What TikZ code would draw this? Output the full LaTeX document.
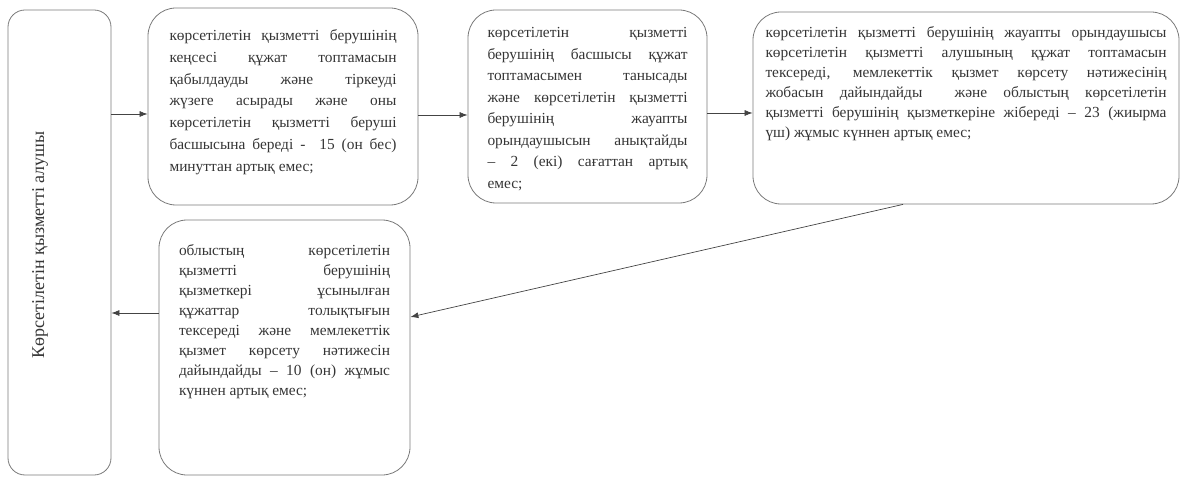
\documentclass[tikz,border=0pt]{standalone}
\usepackage{fontspec}
\setmainfont{Liberation Serif}
\usetikzlibrary{arrows.meta,calc}
\definecolor{txt}{HTML}{353535}
\definecolor{edgec}{HTML}{7A7A7A}
\definecolor{arrc}{HTML}{444444}
\newcommand\jl[1]{\makebox[\linewidth][s]{#1}\par}
\newcommand\fl[1]{\makebox[\linewidth][s]{\rule{0pt}{11pt}#1}\par}
\newcommand\lastl[1]{\mbox{#1}\par}
\newcommand\boxtext[5]{\parbox[c][#1][t]{#2}{\vspace*{#3}\fontsize{15.4}{#4}\selectfont\color{txt}#5}}
\tikzset{
  procbox/.style={draw=edgec, line width=0.8pt, rounded corners=28pt, inner ysep=0pt, inner xsep=#1},
  actorbox/.style={draw=edgec, line width=0.8pt, rounded corners=17pt, minimum width=103pt, minimum height=465pt, inner sep=0pt},
  conn/.style={draw=arrc, line width=0.7pt, -{Latex[length=8pt,width=6pt]}}
}
\begin{document}
\begin{tikzpicture}[x=1pt,y=-1pt]
\useasboundingbox (0,0) rectangle (1180,478);
\node[actorbox] (lb) at (59.5,242.5) {};
\node[rotate=90, font=\fontsize{18}{20}\selectfont, text=txt, inner sep=0pt] (lt) at (40,245) {Көрсетілетін қызметті алушы};

\node[procbox=21.5pt] (b2) at (283,106.5) {\boxtext{197pt}{227pt}{21.5pt}{21.8pt}{%
\fl{көрсетілетін қызметті берушінің}
\jl{кеңсесі құжат топтамасын}
\jl{қабылдауды және тіркеуді}
\jl{жүзеге асырады және оны}
\jl{көрсетілетін қызметті беруші}
\jl{басшысына береді - \ 15 (он бес)}
\lastl{минуттан артық емес;}}};

\node[procbox=19.5pt] (b3) at (587.5,106.5) {\boxtext{193pt}{200pt}{17pt}{21.5pt}{%
\fl{көрсетілетін қызметті}
\jl{берушінің басшысы құжат}
\jl{топтамасымен танысады}
\jl{және көрсетілетін қызметті}
\jl{берушінің жауапты}
\jl{орындаушысын анықтайды}
\jl{– 2 (екі) сағаттан артық}
\lastl{емес;}}};

\node[procbox=12.5pt] (b4) at (966,108) {\boxtext{192pt}{401pt}{14.5pt}{20pt}{%
\fl{көрсетілетін қызметті берушінің жауапты орындаушысы}
\jl{көрсетілетін қызметті алушының құжат топтамасын}
\jl{тексереді, мемлекеттік қызмет көрсету нәтижесінің}
\jl{жобасын дайындайды \ және облыстың көрсетілетін}
\jl{қызметті берушінің қызметкеріне жібереді – 23 (жиырма}
\lastl{үш) жұмыс күннен артық емес;}}};

\node[procbox=20pt] (b5) at (284.5,347.5) {\boxtext{255pt}{211pt}{24pt}{20pt}{%
\fl{облыстың көрсетілетін}
\jl{қызметті берушінің}
\jl{қызметкері ұсынылған}
\jl{құжаттар толықтығын}
\jl{тексереді және мемлекеттік}
\jl{қызмет көрсету нәтижесін}
\jl{дайындайды – 10 (он) жұмыс}
\lastl{күннен артық емес;}}};

\coordinate (ya) at (0,114);
\coordinate (yb) at (0,115);
\coordinate (yc) at (0,113);
\coordinate (xd) at (903,0);
\coordinate (yd) at (0,317);
\coordinate (ye) at (0,313);
\draw[conn] (lb.east |- ya) -- (b2.west |- ya);
\draw[conn] (b2.east |- yb) -- (b3.west |- yb);
\draw[conn] (b3.east |- yc) -- (b4.west |- yc);
\draw[conn] (b4.south -| xd) -- (b5.east |- yd);
\draw[conn] (b5.west |- ye) -- (lb.east |- ye);
\end{tikzpicture}
\end{document}
